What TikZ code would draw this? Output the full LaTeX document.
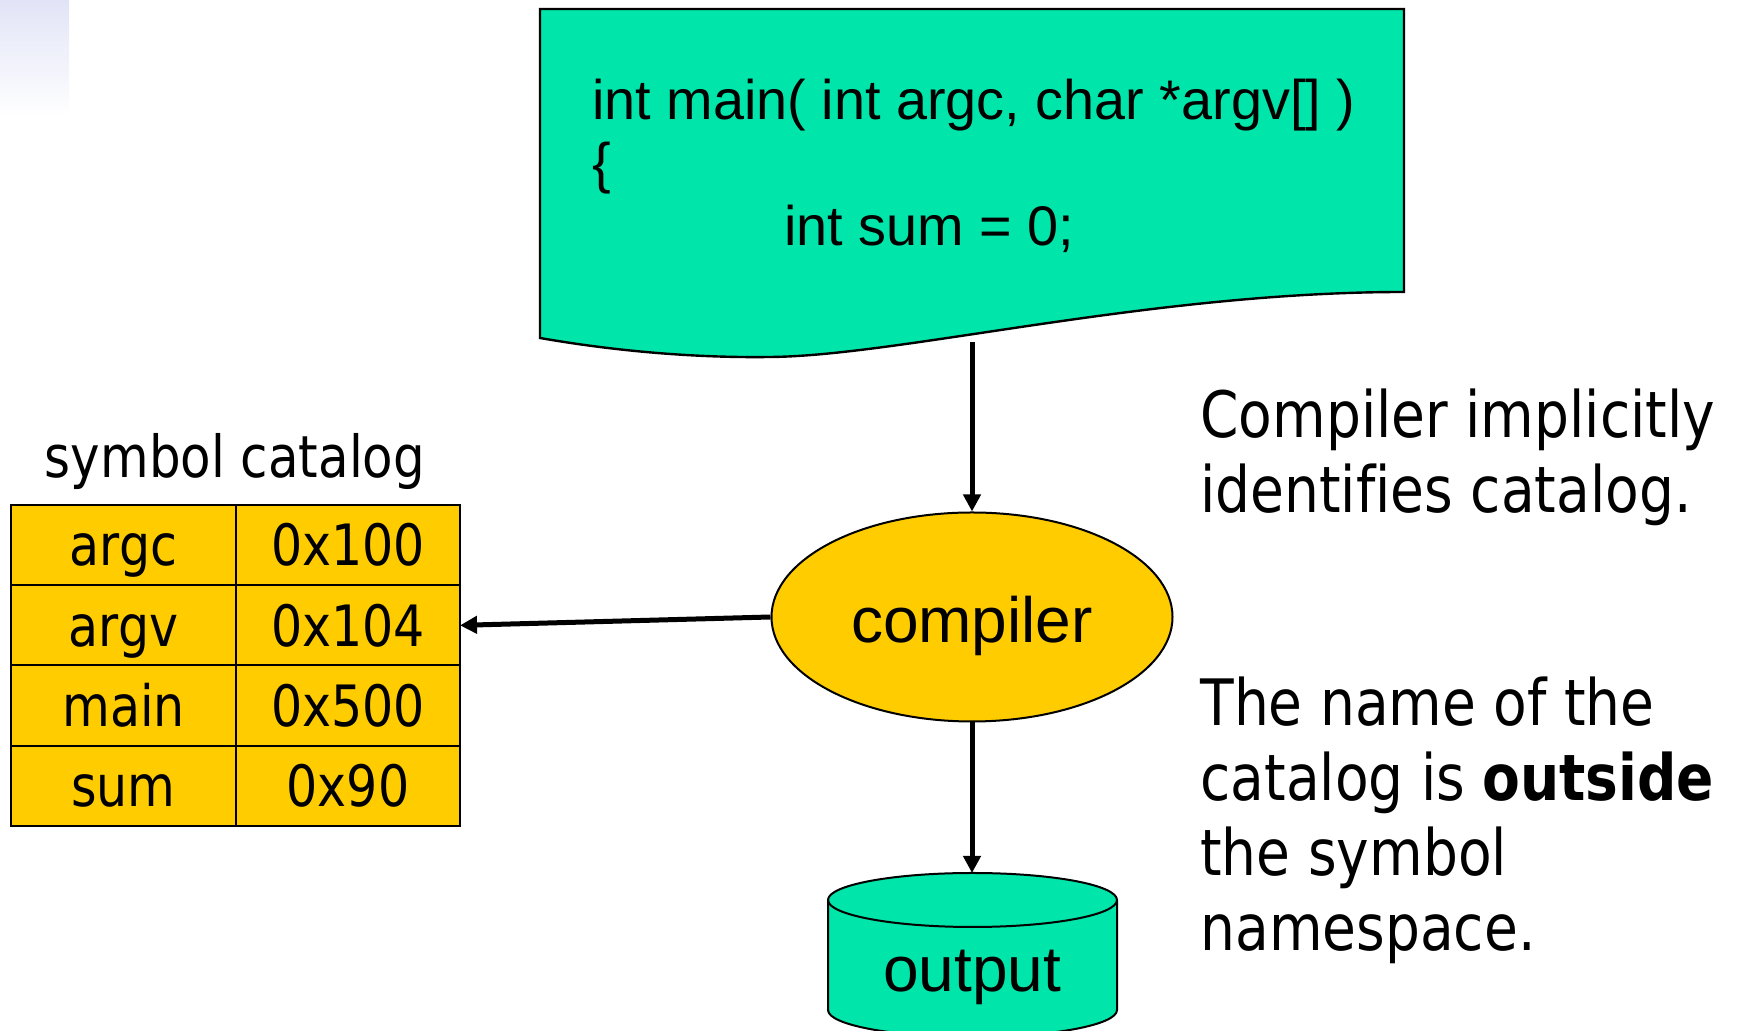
\documentclass[tikz,border=0pt]{standalone}
\usepackage{fontspec}
\setmainfont{Liberation Sans}
\newfontfamily\tahoma[FakeStretch=0.86,Ligatures=NoCommon]{DejaVu Sans}
\usetikzlibrary{shapes.geometric,positioning,arrows.meta}

\definecolor{sheetgreen}{RGB}{0,229,170}
\definecolor{catgold}{RGB}{255,204,0}
\definecolor{slideblue}{RGB}{225,228,246}

\tikzset{
  conn/.style={-{Triangle[length=8.5pt,width=8.5pt]}, line width=2.5pt},
  cell/.style={draw, line width=1pt, fill=catgold, minimum height=40.125pt,
    inner sep=0pt, outer sep=0pt, font=\tahoma\fontsize{28.5}{30}\selectfont,
    text height=20.8pt, text depth=0pt},
  compnode/.style={ellipse, draw, line width=1pt, fill=catgold,
    minimum width=200.5pt, minimum height=104.5pt, inner sep=0pt,
    font=\fontsize{32}{36}\selectfont, text height=26pt, text depth=0pt},
  codeline/.style={anchor=base west, inner sep=0pt, font=\fontsize{27.9}{31.5}\selectfont},
  remark/.style={anchor=base west, inner sep=0pt, align=left,
    font=\tahoma\fontsize{32}{37.5}\selectfont},
}

\begin{document}
\begin{tikzpicture}[x=0.5pt,y=0.5pt]
\useasboundingbox (0,0) rectangle (1738,1031);
% slide corner
\shade[top color=slideblue, bottom color=white] (0,915) rectangle (69,1031);

% source file
\filldraw[fill=sheetgreen, line width=1.2pt] (540,1022) -- (1404,1022) -- (1404,739)
  .. controls (1150,739) and (900,675) .. (770,674)
  .. controls (700,673) and (620,679) .. (540,693) -- cycle;
\node[codeline] (code1) at (592,911) {int main( int argc, char *argv[] )};
\node[codeline] (code2) at (592,848) {\{};
\node[codeline] (code3) at (784,785) {int sum = 0;};
\coordinate (docfoot) at (972,689);

% compiler
\node[compnode] (compiler) at (972,414) {compiler};

% output
\filldraw[fill=sheetgreen, line width=1pt] (828,131) -- (828,21)
  arc[start angle=180, end angle=360, x radius=144.5, y radius=27] -- (1117,131)
  arc[start angle=0, end angle=180, x radius=144.5, y radius=27];
\draw[line width=1pt] (828,131) arc[start angle=180, end angle=360, x radius=144.5, y radius=27];
\coordinate (dbtop) at (972,158);
\node[anchor=base, inner sep=0pt, font=\fontsize{32}{36}\selectfont] (output) at (972,39) {output};

% symbol catalog
\node[anchor=base, inner sep=0pt, font=\tahoma\fontsize{29}{32}\selectfont] (cattitle) at (235,553) {symbol catalog};
\foreach \nm/\ad [count=\i] in {argc/0x100, argv/0x104, main/0x500, sum/0x90} {
  \node[cell, minimum width=112.5pt] (name\i) at (123.5,{485.875-80.25*(\i-1)}) {\nm};
  \node[cell, minimum width=112pt, right=0pt of name\i] (addr\i) {\ad};
}

\draw[conn] (docfoot) -- (compiler.north);
\draw[conn] (compiler.south) -- (dbtop);
\draw[conn] (compiler.west) -- (addr2.east);

% notes (base = last line)
\node[remark] (note1) at (1200,518) {Compiler implicitly\\identifies catalog.};
\node[remark] (note2) at (1200,80) {The name of the\\catalog is \textbf{outside}\\the symbol\\namespace.};
\end{tikzpicture}
\end{document}
